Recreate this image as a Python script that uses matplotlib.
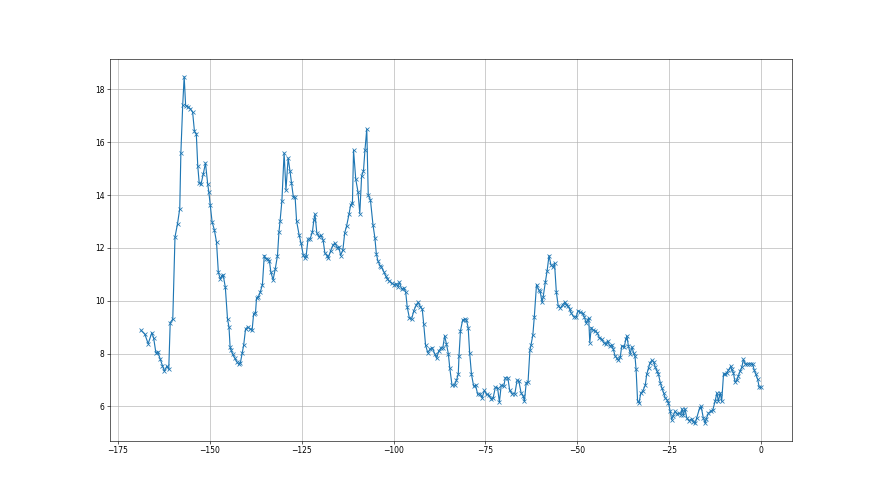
import matplotlib.pyplot as plt

# Данные
x = [-168.75, -167.7, -166.8, -165.8, -165.3, -164.7, -164.2, -163.5, -162.9, -162.4,
     -161.7, -161.2, -160.8, -160.1, -159.5, -158.8, -158.2, -157.9, -157.4, -157.0,
     -156.6, -155.9, -155.3, -154.7, -154.2, -153.7, -153.3, -152.9, -152.4, -151.8,
     -151.2, -150.6, -150.3, -149.9, -149.4, -148.8, -148.2, -147.7, -147.2, -146.7,
     -146.4, -145.8, -145.2, -144.8, -144.5, -144.2, -143.8, -143.3, -142.7, -142.1,
     -141.7, -141.2, -140.8, -140.3, -139.7, -139.0, -138.5, -138.1, -137.6, -137.3,
     -136.8, -136.3, -135.7, -135.2, -134.8, -134.3, -133.8, -133.4, -132.8, -132.2,
     -131.6, -131.2, -130.9, -130.4, -129.8, -129.3, -128.7, -128.2, -127.8, -127.3,
     -126.8, -126.4, -125.7, -125.2, -124.6, -124.2, -123.8, -123.3, -122.7, -122.1,
     -121.7, -121.4, -120.9, -120.3, -119.8, -119.2, -118.7, -118.0, -117.8, -117.1,
     -116.5, -116.0, -115.3, -114.9, -114.4, -113.8, -113.3, -112.8, -112.1, -111.7,
     -111.2, -110.9, -110.3, -109.7, -109.2, -108.7, -108.2, -107.8, -107.3, -106.9,
     -106.3, -105.6, -105.1, -104.7, -104.3, -103.7, -103.3, -102.6, -102.2, -101.7,
     -101.3, -100.5, -99.9, -99.3, -98.8, -98.4, -97.8, -97.2, -96.7, -96.3,
     -95.7, -95.1, -94.5, -93.8, -93.3, -92.7, -92.2, -91.8, -91.3, -90.7,
     -90.1, -89.5, -88.8, -88.3, -87.7, -87.0, -86.6, -86.1, -85.6, -85.1,
     -84.7, -84.1, -83.4, -82.9, -82.4, -82.2, -81.8, -81.2, -80.6, -80.2,
     -79.7, -79.3, -78.8, -78.2, -77.7, -77.1, -76.5, -75.9, -75.3, -74.7,
     -74.1, -73.5, -72.9, -72.3, -71.7, -71.2, -70.7, -70.0, -69.6, -68.9,
     -68.4, -67.7, -67.0, -66.4, -65.9, -65.3, -64.7, -64.4, -63.9, -63.4,
     -62.9, -62.6, -62.1, -61.7, -61.1, -60.5, -60.1, -59.6, -59.3, -58.7,
     -58.2, -57.7, -57.2, -56.6, -56.2, -55.7, -55.2, -54.6, -54.0, -53.4,
     -53.0, -52.5, -52.1, -51.6, -51.0, -50.3, -49.8, -49.2, -48.5, -48.1,
     -47.6, -47.2, -46.9, -46.6, -46.2, -45.7, -45.1, -44.6, -44.0, -43.4,
     -42.8, -42.2, -41.7, -41.2, -40.6, -40.2, -39.7, -39.2, -38.8, -38.3,
     -37.9, -37.2, -36.8, -36.5, -36.1, -35.6, -35.1, -34.7, -34.3, -34.0,
     -33.6, -33.2, -32.7, -32.2, -31.5, -31.1, -30.6, -30.2, -29.7, -29.2,
     -28.8, -28.3, -27.9, -27.4, -27.0, -26.5, -26.1, -25.6, -25.2, -24.7,
     -24.3, -24.0, -23.4, -22.9, -22.3, -21.8, -21.5, -21.1, -20.7, -20.2,
     -19.6, -18.8, -18.4, -17.9, -17.5, -16.7, -16.3, -15.7, -15.2, -14.9,
     -14.3, -13.7, -13.1, -12.5, -12.0, -11.6, -11.1, -10.7, -10.2, -9.8,
     -9.3, -8.9, -8.2, -8.0, -7.5, -7.1, -6.6, -6.2, -5.7, -5.2,
     -4.8, -4.3, -3.9, -3.3, -2.7, -2.3, -1.8, -1.4, -0.9, -0.5,
     0.0]

y = [8.88, 8.73, 8.37, 8.79, 8.58, 8.03, 8.07, 7.78, 7.52, 7.33,
     7.52, 7.40, 9.17, 9.30, 12.41, 12.92, 13.49, 15.59, 17.40, 18.48,
     17.39, 17.34, 17.26, 17.14, 16.41, 16.32, 15.10, 14.44, 14.42, 14.80,
     15.21, 14.42, 14.13, 13.62, 12.98, 12.69, 12.22, 11.08, 10.83, 10.95,
     10.98, 10.51, 9.30, 9.00, 8.25, 8.12, 7.97, 7.84, 7.69, 7.59,
     7.65, 8.03, 8.32, 8.92, 9.01, 8.92, 8.90, 9.49, 9.52, 10.10,
     10.15, 10.32, 10.61, 11.71, 11.59, 11.59, 11.50, 11.08, 10.79, 11.21,
     11.71, 12.60, 13.01, 13.78, 15.59, 14.19, 15.40, 14.91, 14.47, 13.94,
     13.91, 13.01, 12.48, 12.18, 11.74, 11.63, 11.69, 12.32, 12.35, 12.60,
     13.05, 13.28, 12.57, 12.41, 12.48, 12.31, 11.80, 11.71, 11.61, 11.90,
     12.10, 12.18, 12.01, 12.03, 11.71, 11.93, 12.57, 12.82, 13.30, 13.62,
     13.71, 15.69, 14.60, 14.13, 13.30, 14.72, 14.91, 15.69, 16.50, 14.00,
     13.81, 12.86, 12.39, 11.78, 11.52, 11.33, 11.27, 11.08, 10.95, 10.83,
     10.76, 10.66, 10.61, 10.64, 10.53, 10.70, 10.44, 10.48, 10.32, 9.77,
     9.34, 9.30, 9.62, 9.85, 9.94, 9.77, 9.68, 9.11, 8.32, 8.03,
     8.16, 8.22, 7.99, 7.82, 8.10, 8.22, 8.22, 8.67, 8.35, 7.99,
     7.44, 6.80, 6.80, 6.98, 7.21, 7.90, 8.86, 9.27, 9.30, 9.27,
     8.98, 8.03, 7.21, 6.76, 6.80, 6.45, 6.48, 6.32, 6.60, 6.45,
     6.42, 6.29, 6.32, 6.72, 6.70, 6.16, 6.80, 6.76, 7.08, 7.08,
     6.60, 6.47, 6.47, 6.98, 6.95, 6.51, 6.38, 6.19, 6.89, 6.93,
     8.12, 8.32, 8.70, 9.39, 10.61, 10.41, 10.35, 9.94, 10.13, 10.70,
     11.14, 11.71, 11.37, 11.27, 11.42, 10.32, 9.81, 9.72, 9.85, 9.94,
     9.85, 9.81, 9.68, 9.52, 9.39, 9.39, 9.62, 9.56, 9.52, 9.39,
     9.16, 9.27, 9.34, 8.41, 8.98, 8.88, 8.86, 8.79, 8.60, 8.54,
     8.41, 8.35, 8.48, 8.29, 8.32, 8.16, 7.90, 7.82, 7.74, 7.87,
     8.29, 8.25, 8.54, 8.67, 8.29, 8.00, 8.25, 8.03, 7.90, 7.40,
     6.22, 6.13, 6.51, 6.57, 6.80, 7.21, 7.46, 7.65, 7.74, 7.69,
     7.49, 7.33, 7.21, 6.89, 6.70, 6.51, 6.32, 6.25, 6.13, 5.81,
     5.49, 5.62, 5.81, 5.71, 5.74, 5.68, 5.91, 5.68, 5.91, 5.56,
     5.46, 5.53, 5.40, 5.36, 5.56, 5.94, 6.00, 5.56, 5.36, 5.53,
     5.74, 5.81, 5.87, 6.19, 6.51, 6.19, 6.51, 6.19, 7.21, 7.23,
     7.27, 7.36, 7.52, 7.40, 7.27, 6.93, 6.98, 7.14, 7.33, 7.49,
     7.78, 7.61, 7.59, 7.61, 7.61, 7.59, 7.36, 7.21, 7.02, 6.72,
     6.72]

# Построение графика
fig, ax = plt.subplots(figsize=(16, 9), dpi=55)
ax.plot(x, y, marker='x')

ax.grid()

plt.savefig('out.png', dpi=55)
